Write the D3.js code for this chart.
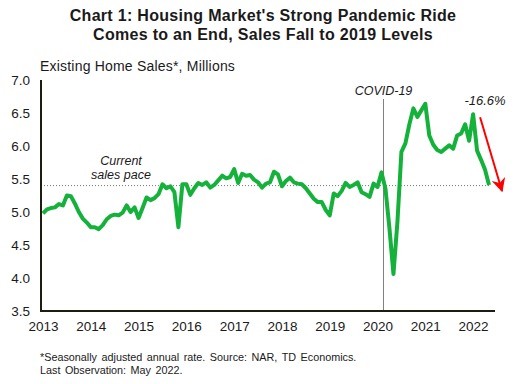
<!DOCTYPE html>
<html>
<head>
<meta charset="utf-8">
<script src="https://cdn.jsdelivr.net/npm/d3@7"></script>
<style>
	body{margin:0;background:#fff}
	text{font-family:"Liberation Sans",Arial,sans-serif;fill:#1a1a1a}
</style>
</head>
<body>
<svg id="chart" width="515" height="384"></svg>
<script>
// existing home sales, SAAR millions, monthly Jan 2013 .. May 2022
var startYear = 2013
var sales = [
	4.98, 5.04, 5.06, 5.07, 5.12, 5.10, 5.25, 5.24, 5.13, 5.00, 4.90, 4.84,
	4.77, 4.77, 4.74, 4.80, 4.89, 4.94, 4.96, 4.95, 4.99, 5.10, 5.00, 5.07,
	4.91, 5.06, 5.22, 5.18, 5.21, 5.27, 5.42, 5.36, 5.39, 5.30, 4.77, 5.42,
	5.42, 5.26, 5.36, 5.44, 5.41, 5.45, 5.37, 5.41, 5.48, 5.55, 5.51, 5.53,
	5.65, 5.44, 5.58, 5.55, 5.56, 5.49, 5.45, 5.37, 5.43, 5.45, 5.61, 5.57,
	5.39, 5.47, 5.52, 5.45, 5.43, 5.42, 5.36, 5.28, 5.20, 5.15, 5.15, 5.03,
	4.95, 5.28, 5.24, 5.32, 5.44, 5.38, 5.41, 5.45, 5.30, 5.27, 5.23, 5.43,
	5.38, 5.60, 5.35, 4.75, 4.06, 4.85, 5.91, 6.04, 6.33, 6.57, 6.44, 6.54,
	6.64, 6.16, 6.02, 5.94, 5.91, 5.96, 6.01, 5.96, 6.16, 6.19, 6.33, 6.08,
	6.48, 5.93, 5.79, 5.64, 5.41
]
var yearLabels = ["2013","2014","2015","2016","2017","2018","2019","2020","2021","2022"]
var yTicks = [3.5, 4.0, 4.5, 5.0, 5.5, 6.0, 6.5, 7.0]
var currentPace = 5.4
var covidMonth = 85.5   // between Feb and Mar 2020
var peakMonth = 108, peakValue = 6.48   // Jan 2022
var changeLabel = "-16.6%"

var svg = d3.select("#chart")

var x = d3.scaleLinear().domain([-0.5, 113.5]).range([41, 495])
var y = d3.scaleLinear().domain([3.5, 7]).range([311, 80])

// title
svg.append("text")
	.attr("x", 263).attr("y", 21)
	.attr("text-anchor","middle")
	.style("font-weight","bold").style("font-size","16px").style("letter-spacing","0.3px")
	.text("Chart 1: Housing Market's Strong Pandemic Ride")
svg.append("text")
	.attr("x", 263).attr("y", 40)
	.attr("text-anchor","middle")
	.style("font-weight","bold").style("font-size","16px").style("letter-spacing","0.3px")
	.text("Comes to an End, Sales Fall to 2019 Levels")

svg.append("text")
	.attr("x", 40).attr("y", 71)
	.style("font-size","14px").style("letter-spacing","0.2px")
	.text("Existing Home Sales*, Millions")

// y tick labels
var yAxis = svg.append("g")
	.attr("transform","translate(41,0)")
	.call(d3.axisLeft(y).tickValues(yTicks).tickFormat(d3.format(".1f")).tickSize(0).tickPadding(11))
yAxis.select(".domain").remove()
yAxis.selectAll("text").style("font-size","13.5px").style("font-family","Liberation Sans, Arial, sans-serif").attr("fill","#1a1a1a")

// x year labels
var xAxis = svg.append("g")
	.attr("transform","translate(0,311)")
	.call(d3.axisBottom(x).tickValues(d3.range(yearLabels.length).map(function(i){ return i*12 }))
		.tickFormat(function(d,i){ return yearLabels[i] }).tickSize(0).tickPadding(10))
xAxis.select(".domain").remove()
xAxis.selectAll("text").style("font-size","13.5px").style("font-family","Liberation Sans, Arial, sans-serif").attr("fill","#1a1a1a")

// current sales pace
svg.append("line")
	.attr("x1", x(-0.5)).attr("x2", x(sales.length-1))
	.attr("y1", y(currentPace)).attr("y2", y(currentPace))
	.attr("stroke","#777").attr("stroke-width",1).attr("stroke-dasharray","1,2")
svg.append("text")
	.attr("x", 121).attr("y", 165)
	.attr("text-anchor","middle")
	.style("font-style","italic").style("font-size","12.5px")
	.text("Current")
svg.append("text")
	.attr("x", 121).attr("y", 179)
	.attr("text-anchor","middle")
	.style("font-style","italic").style("font-size","12.5px")
	.text("sales pace")

// covid marker
svg.append("line")
	.attr("x1", x(covidMonth)).attr("x2", x(covidMonth))
	.attr("y1", 99).attr("y2", y(3.5))
	.attr("stroke","#808080").attr("stroke-width",1)
svg.append("text")
	.attr("x", x(covidMonth)).attr("y", 95)
	.attr("text-anchor","middle")
	.style("font-style","italic").style("font-size","12.5px")
	.text("COVID-19")

// axis lines
svg.append("line")
	.attr("x1", 41).attr("x2", 41).attr("y1", 80).attr("y2", 312)
	.attr("stroke","#1c1c10").attr("stroke-width",2)
svg.append("line")
	.attr("x1", 40).attr("x2", 495).attr("y1", 311).attr("y2", 311)
	.attr("stroke","#1c1c10").attr("stroke-width",2)

// sales line
var line = d3.line()
	.x(function(d,i){ return x(i) })
	.y(function(d){ return y(d) })
svg.append("path")
	.datum(sales)
	.attr("d", line)
	.attr("fill","none")
	.attr("stroke","#14b23a")
	.attr("stroke-width",4)
	.attr("stroke-linejoin","round")

// decline arrow
svg.append("defs").append("marker")
	.attr("id","arrowhead")
	.attr("viewBox","0 0 10 10")
	.attr("refX",9).attr("refY",5)
	.attr("markerWidth",7).attr("markerHeight",7)
	.attr("orient","auto")
	.append("path")
	.attr("d","M0,0 L10,5 L0,10 L3,5 Z")
	.attr("fill","#ff0000")
svg.append("line")
	.attr("x1", x(peakMonth)+7).attr("y1", y(peakValue)+3)
	.attr("x2", 502).attr("y2", 191)
	.attr("stroke","#ff0000").attr("stroke-width",2)
	.attr("marker-end","url(#arrowhead)")
svg.append("text")
	.attr("x", 485).attr("y", 105)
	.attr("text-anchor","middle")
	.style("font-style","italic").style("font-size","13px")
	.text(changeLabel)

// footnotes
svg.append("text")
	.attr("x", 40).attr("y", 361)
	.style("font-size","10.8px").style("word-spacing","1.5px")
	.text("*Seasonally adjusted annual rate. Source: NAR, TD Economics.")
svg.append("text")
	.attr("x", 40).attr("y", 374)
	.style("font-size","10.8px").style("word-spacing","1.5px")
	.text("Last Observation: May 2022.")
</script>
</body>
</html>
